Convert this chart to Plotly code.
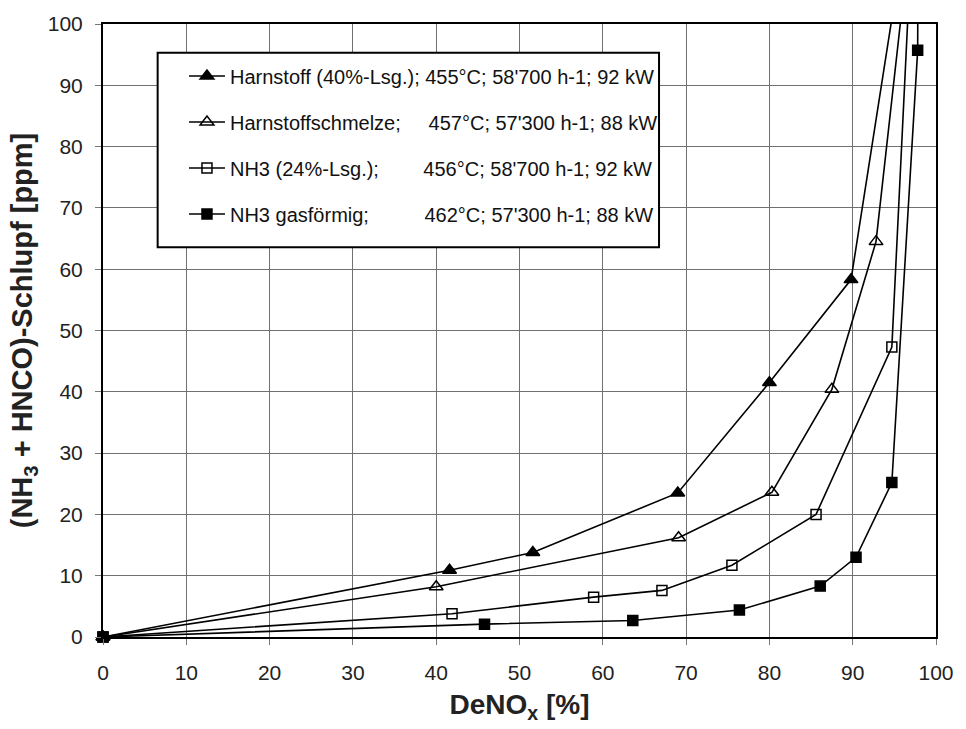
import plotly.graph_objects as go

# DeNOx conversion [%] vs. (NH3 + HNCO) slip [ppm] for four reductant variants.
# Last point of each series lies above the 100 ppm axis limit (line runs off the top).
harnstoff_lsg_x = [0, 41.6, 51.6, 69.0, 80.0, 89.8, 96.9]
harnstoff_lsg_y = [0, 10.9, 13.8, 23.5, 41.5, 58.3, 120]

schmelze_x = [0, 40.0, 69.1, 80.3, 87.5, 92.8, 97.35]
schmelze_y = [0, 8.2, 16.2, 23.6, 40.4, 64.5, 120]

nh3_lsg_x = [0, 41.9, 58.9, 67.1, 75.5, 85.6, 94.7, 97.3]
nh3_lsg_y = [0, 3.8, 6.5, 7.6, 11.7, 20.0, 47.3, 120]

nh3_gas_x = [0, 45.8, 63.6, 76.4, 86.1, 90.4, 94.7, 97.8, 97.9]
nh3_gas_y = [0, 2.1, 2.7, 4.4, 8.3, 13.0, 25.2, 95.7, 140]

NB = "\u00a0"
series_names = [
    "Harnstoff (40%-Lsg.); 455°C; 58'700 h-1; 92 kW",
    "Harnstoffschmelze;" + NB * 5 + "457°C; 57'300 h-1; 88 kW",
    "NH3 (24%-Lsg.);" + NB * 8 + "456°C; 58'700 h-1; 92 kW",
    "NH3 gasförmig;" + NB * 10 + "462°C; 57'300 h-1; 88 kW",
]

xs = [harnstoff_lsg_x, schmelze_x, nh3_lsg_x, nh3_gas_x]
ys = [harnstoff_lsg_y, schmelze_y, nh3_lsg_y, nh3_gas_y]
symbols = ["triangle-up", "triangle-up-open", "square-open", "square"]
sizes = [12, 12, 10, 10]

FONT = "Liberation Sans, Arial, sans-serif"

fig = go.Figure()
for i in range(4):
    fig.add_trace(go.Scatter(
        x=xs[i], y=ys[i], name=series_names[i],
        mode="lines+markers",
        line=dict(color="black", width=1.6),
        marker=dict(symbol=symbols[i], size=sizes[i], color="black",
                    line=dict(color="black", width=1.5)),
        legendgroup=f"g{i}",
        cliponaxis=False,
    ))

axis_common = dict(
    range=[0, 100], dtick=10, tick0=0,
    showgrid=True, gridcolor="#707070", gridwidth=1,
    showline=True, linecolor="black", linewidth=2, mirror=True,
    ticks="outside", ticklen=6, tickcolor="#777", tickwidth=1,
    tickfont=dict(family=FONT, size=21, color="#222"),
    zeroline=False, fixedrange=True,
)

fig.update_xaxes(
    **axis_common,
    ticklabelstandoff=10,
    title=dict(text="<b>DeNO<sub>x</sub> [%]</b>",
               font=dict(family=FONT, size=28, color="#222"), standoff=11),
)
fig.update_yaxes(
    **axis_common,
    ticklabelstandoff=8,
    title=dict(text="<b>(NH<sub>3</sub> + HNCO)-Schlupf [ppm]</b>",
               font=dict(family=FONT, size=29, color="#222"), standoff=7),
)

# Legend frame: white box with black border behind the legend entries
fig.add_shape(
    type="rect", xref="paper", yref="paper",
    x0=0.0656, x1=0.6675, y0=0.636, y1=0.9533,
    line=dict(color="black", width=2), fillcolor="white", layer="above",
)

fig.update_layout(
    width=966, height=729,
    margin=dict(l=103, r=24, t=16, b=92),
    paper_bgcolor="white", plot_bgcolor="white",
    showlegend=True,
    legend=dict(
        x=0.066, y=0.947, xanchor="left", yanchor="top",
        bgcolor="rgba(0,0,0,0)", borderwidth=0,
        font=dict(family=FONT, size=20, color="#111"),
        traceorder="grouped", tracegroupgap=17,
        itemwidth=36, indentation=26,
    ),
)

fig.write_html("out.html")
